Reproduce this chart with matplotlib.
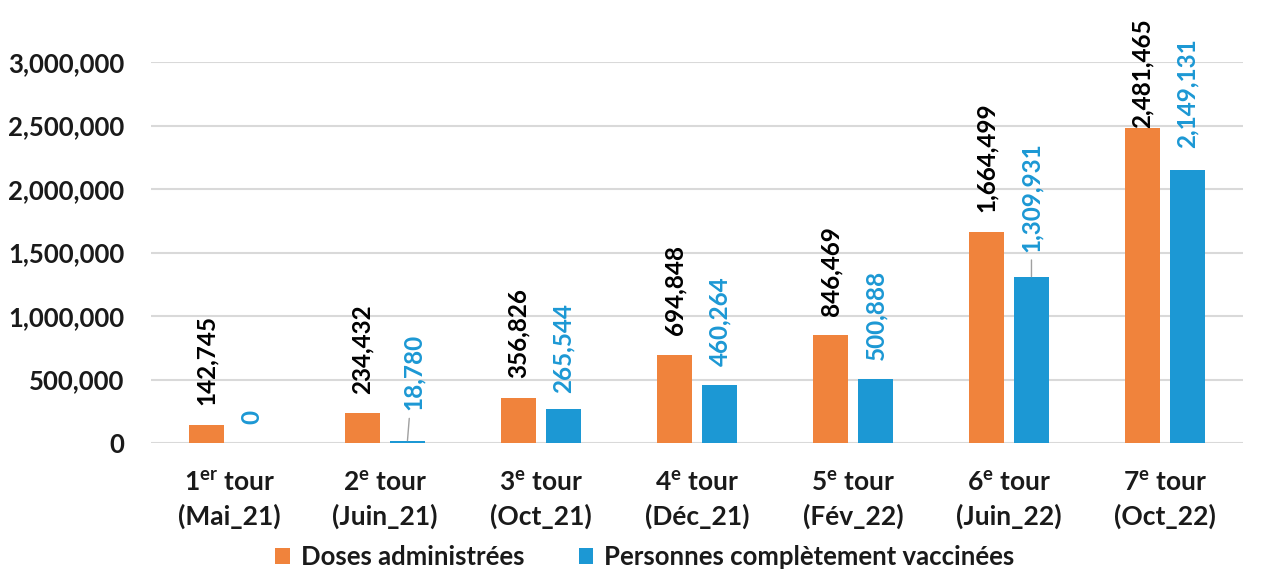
import numpy as np
import matplotlib
matplotlib.use("Agg")
import matplotlib.pyplot as plt
from matplotlib.ticker import FuncFormatter

# tours de vaccination
tour_num = ["1", "2", "3", "4", "5", "6", "7"]
tour_sup = ["er", "e", "e", "e", "e", "e", "e"]
tour_mois = ["Mai_21", "Juin_21", "Oct_21", "Déc_21", "Fév_22", "Juin_22", "Oct_22"]

doses = [142745, 234432, 356826, 694848, 846469, 1664499, 2481465]
complets = [0, 18780, 265544, 460264, 500888, 1309931, 2149131]

series_names = ["Doses administrées", "Personnes complètement vaccinées"]

ORANGE = "#F0833C"
BLUE = "#1C98D4"
GRID = "#D9D9D9"
TXT = "#1A1A1A"

plt.rcParams["font.family"] = ["Lato", "DejaVu Sans"]
plt.rcParams["font.weight"] = "bold"
plt.rcParams["mathtext.fontset"] = "custom"
plt.rcParams["mathtext.rm"] = "Lato:bold"
plt.rcParams["mathtext.it"] = "Lato:bold"
plt.rcParams["mathtext.bf"] = "Lato:bold"

fig = plt.figure(figsize=(12.66, 5.72), dpi=100)
ax = fig.add_axes([151 / 1266, 1 - 443 / 572, 1092 / 1266, (443 - 62) / 572])

x = np.arange(len(tour_num))
w = 0.224
off = 0.144

ax.bar(x - off, doses, w, color=ORANGE, label=series_names[0], zorder=3)
ax.bar(x + off, complets, w, color=BLUE, label=series_names[1], zorder=3)

ax.set_xlim(-0.5, len(tour_num) - 0.5)
ax.set_ylim(0, 3000000)
ax.set_yticks(np.arange(0, 3000001, 500000))
ax.yaxis.set_major_formatter(FuncFormatter(lambda v, p: f"{v:,.0f}"))
ax.yaxis.grid(True, color=GRID, lw=1.5, zorder=0)
ax.set_axisbelow(True)
for s in ax.spines.values():
    s.set_visible(False)
ax.tick_params(axis="both", length=0, labelcolor=TXT)
ax.tick_params(axis="y", pad=19, labelsize=18.5)
ax.tick_params(axis="x", pad=20, labelsize=19)

ax.set_xticks(x)
ax.set_xticklabels([f"{n}$^{{\\mathrm{{{s}}}}}$ tour\n({m})" for n, s, m in zip(tour_num, tour_sup, tour_mois)],
                   linespacing=1.42)

# décalage des étiquettes (points) et lignes de rappel
dose_dy = [14, 14, 14, 14, 14, 14, 0]
comp_dy = [14, 22, 12, 13, 14, 18, 16]
comp_dx = [0, 4, 0, 0, 0, 0, 0]
comp_leader = [False, True, False, False, False, True, False]

for i, v in enumerate(doses):
    ax.annotate(f"{v:,}", xy=(x[i] - off, v), xytext=(0, dose_dy[i]), textcoords="offset points",
                rotation=90, ha="center", va="bottom", fontsize=17.5, color="black",
                fontweight="bold")

for i, v in enumerate(complets):
    arrow = None
    if comp_leader[i]:
        arrow = dict(arrowstyle="-", color="#A0A0A0", lw=1, shrinkA=4, shrinkB=0)
    ax.annotate(f"{v:,}", xy=(x[i] + off, v), xytext=(comp_dx[i], comp_dy[i]), textcoords="offset points",
                rotation=90, ha="center", va="bottom", fontsize=17.5, color=BLUE,
                fontweight="bold", arrowprops=arrow)

fig.legend(loc="center", bbox_to_anchor=(645 / 1266, 1 - 557 / 572), ncol=2, frameon=False,
           fontsize=18.5, handlelength=0.55, handleheight=0.55, handletextpad=0.45,
           columnspacing=2.1, labelcolor=TXT)

fig.savefig("out.png", dpi=100)
